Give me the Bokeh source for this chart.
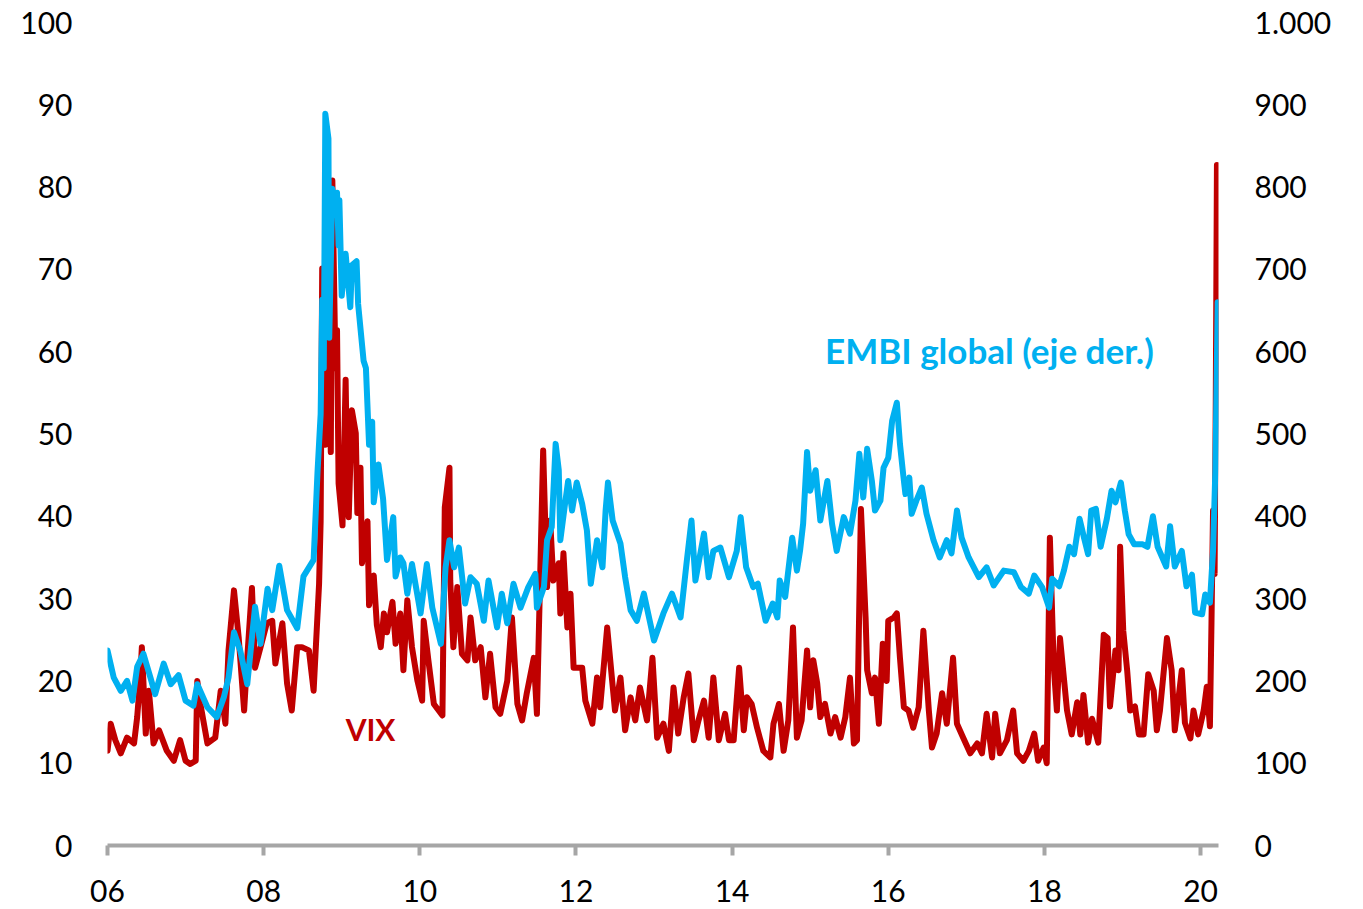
from bokeh.plotting import figure
from bokeh.models import Range1d, LinearAxis, FixedTicker, ColumnDataSource
from bokeh.core.properties import value
from bokeh.embed import file_html
from bokeh.resources import INLINE

# ---------------- data (decimal years) ----------------
vix_dates = [2006.00, 2006.04, 2006.10, 2006.17, 2006.25, 2006.34, 2006.38, 2006.42, 2006.44, 2006.49, 2006.53, 2006.59, 2006.66, 2006.76, 2006.85, 2006.93,
             2007.00, 2007.06, 2007.13, 2007.15, 2007.19, 2007.28, 2007.38, 2007.45, 2007.51, 2007.55, 2007.62, 2007.68, 2007.75, 2007.79, 2007.85, 2007.89, 2007.96,
             2008.04, 2008.11, 2008.15, 2008.24, 2008.30, 2008.36, 2008.43, 2008.49, 2008.58, 2008.64, 2008.71, 2008.73, 2008.75, 2008.79, 2008.83, 2008.86, 2008.88, 2008.90, 2008.92, 2008.94, 2008.96,
             2009.01, 2009.05, 2009.07, 2009.09, 2009.13, 2009.18, 2009.20, 2009.24, 2009.26, 2009.33, 2009.35, 2009.41, 2009.45, 2009.50, 2009.54, 2009.58, 2009.65, 2009.69, 2009.75, 2009.79, 2009.84, 2009.90, 2009.97,
             2010.03, 2010.05, 2010.11, 2010.18, 2010.29, 2010.32, 2010.38, 2010.39, 2010.43, 2010.48, 2010.54, 2010.61, 2010.65, 2010.71, 2010.78, 2010.84, 2010.90, 2010.97,
             2011.03, 2011.12, 2011.18, 2011.25, 2011.31, 2011.37, 2011.46, 2011.50, 2011.58, 2011.63, 2011.67, 2011.71, 2011.78, 2011.80, 2011.84, 2011.89, 2011.93, 2011.97,
             2012.08, 2012.12, 2012.21, 2012.27, 2012.31, 2012.40, 2012.46, 2012.50, 2012.57, 2012.63, 2012.70, 2012.76, 2012.82, 2012.91, 2012.98,
             2013.04, 2013.12, 2013.19, 2013.25, 2013.31, 2013.38, 2013.44, 2013.51, 2013.57, 2013.64, 2013.70, 2013.76, 2013.83, 2013.91, 2013.96,
             2014.02, 2014.09, 2014.15, 2014.19, 2014.25, 2014.32, 2014.40, 2014.49, 2014.53, 2014.60, 2014.66, 2014.72, 2014.78, 2014.83, 2014.89, 2014.96,
             2015.00, 2015.04, 2015.09, 2015.13, 2015.19, 2015.26, 2015.32, 2015.39, 2015.45, 2015.51, 2015.56, 2015.60, 2015.65, 2015.71, 2015.73, 2015.79, 2015.83, 2015.88, 2015.93, 2015.98,
             2016.00, 2016.07, 2016.11, 2016.15, 2016.20, 2016.26, 2016.32, 2016.39, 2016.45, 2016.52, 2016.56, 2016.62, 2016.69, 2016.75, 2016.83, 2016.88, 2016.96,
             2017.05, 2017.14, 2017.20, 2017.26, 2017.33, 2017.37, 2017.43, 2017.52, 2017.60, 2017.65, 2017.73, 2017.80, 2017.87, 2017.92, 2017.99,
             2018.03, 2018.07, 2018.12, 2018.16, 2018.20, 2018.24, 2018.29, 2018.35, 2018.42, 2018.46, 2018.50, 2018.56, 2018.61, 2018.69, 2018.76, 2018.81, 2018.84, 2018.91, 2018.95, 2018.97,
             2019.01, 2019.06, 2019.10, 2019.16, 2019.21, 2019.27, 2019.33, 2019.40, 2019.44, 2019.48, 2019.57, 2019.63, 2019.67, 2019.76, 2019.80, 2019.87, 2019.91, 2019.97,
             2020.04, 2020.08, 2020.12, 2020.14, 2020.16, 2020.18, 2020.195, 2020.21, 2020.22]
vix_values = [11.5, 14.8, 12.8, 11.2, 13.1, 12.4, 15.6, 20.4, 24.1, 13.6, 18.8, 12.4, 14.0, 11.5, 10.3, 12.8,
              10.3, 9.9, 10.3, 20.0, 17.2, 12.4, 13.1, 18.8, 14.8, 23.7, 31.0, 25.3, 16.4, 22.8, 31.3, 21.6, 24.1,
              27.0, 27.3, 22.1, 27.0, 19.7, 16.4, 24.1, 24.1, 23.7, 18.8, 31.8, 39.4, 70.1, 48.7, 61.7, 47.8, 80.8, 69.6, 58.0, 62.6, 44.0,
              38.9, 56.6, 44.0, 39.9, 52.9, 50.1, 40.4, 45.9, 34.3, 39.4, 29.2, 32.8, 26.8, 24.1, 28.2, 25.9, 29.6, 24.5, 28.2, 21.3, 29.8, 24.1, 20.0,
              17.6, 27.3, 22.5, 17.2, 15.8, 41.1, 45.9, 32.2, 24.1, 31.4, 23.3, 22.5, 27.7, 22.5, 24.1, 18.0, 23.3, 16.8,
              16.0, 20.0, 27.7, 17.2, 15.2, 18.5, 22.8, 16.0, 48.0, 31.4, 39.5, 32.2, 34.3, 28.2, 35.5, 26.5, 30.6, 21.6,
              21.6, 17.6, 14.8, 20.4, 16.8, 26.5, 20.4, 16.4, 20.4, 14.0, 18.0, 15.2, 19.2, 15.2, 22.8,
              13.1, 14.8, 11.5, 19.2, 13.6, 18.0, 20.9, 12.8, 15.2, 17.6, 13.1, 20.4, 12.8, 16.0, 12.8,
              12.8, 21.6, 14.0, 18.0, 17.2, 14.3, 11.5, 10.7, 14.8, 17.2, 11.5, 15.2, 26.5, 13.1, 15.2, 23.7,
              16.8, 22.5, 19.7, 15.6, 17.2, 13.6, 15.6, 13.1, 15.6, 20.4, 12.4, 12.8, 40.9, 27.7, 21.3, 18.5, 20.4, 14.8, 24.5, 20.0,
              27.3, 27.7, 28.2, 22.8, 16.8, 16.4, 14.3, 16.8, 26.1, 16.4, 11.9, 13.6, 18.5, 14.8, 22.8, 14.8, 13.1,
              11.2, 12.4, 11.2, 16.0, 10.7, 16.0, 11.2, 12.8, 16.4, 11.2, 10.3, 11.5, 13.6, 10.3, 11.9,
              10.0, 37.4, 21.7, 16.4, 25.2, 21.3, 16.4, 13.5, 17.4, 13.5, 18.3, 12.5, 15.4, 12.5, 25.6, 25.2, 16.9, 23.7, 21.3, 36.3,
              26.1, 21.3, 16.4, 16.9, 13.5, 13.5, 20.8, 18.8, 14.0, 16.4, 25.2, 21.3, 14.0, 21.3, 14.9, 13.0, 16.4, 13.5,
              16.4, 19.3, 14.5, 27.0, 40.7, 33.0, 54.0, 82.7, 66.0]

embi_dates = [2006.00, 2006.08, 2006.17, 2006.25, 2006.32, 2006.38, 2006.46, 2006.55, 2006.61, 2006.72, 2006.81, 2006.91,
              2007.00, 2007.10, 2007.15, 2007.28, 2007.40, 2007.49, 2007.55, 2007.62, 2007.70, 2007.79, 2007.89, 2007.96,
              2008.05, 2008.11, 2008.20, 2008.30, 2008.43, 2008.51, 2008.64, 2008.69, 2008.73, 2008.75, 2008.77, 2008.79, 2008.83, 2008.84, 2008.88, 2008.92, 2008.94, 2008.96, 2008.97,
              2009.00, 2009.05, 2009.11, 2009.13, 2009.19, 2009.21, 2009.28, 2009.31, 2009.35, 2009.39, 2009.41, 2009.47, 2009.53, 2009.58, 2009.66, 2009.69, 2009.75, 2009.79, 2009.84, 2009.90,
              2010.01, 2010.09, 2010.16, 2010.27, 2010.33, 2010.38, 2010.44, 2010.50, 2010.58, 2010.65, 2010.73, 2010.82, 2010.88, 2010.99,
              2011.05, 2011.12, 2011.20, 2011.29, 2011.39, 2011.48, 2011.50, 2011.59, 2011.63, 2011.69, 2011.74, 2011.78, 2011.80, 2011.86, 2011.90, 2011.95,
              2012.01, 2012.08, 2012.14, 2012.19, 2012.27, 2012.34, 2012.38, 2012.41, 2012.47, 2012.57, 2012.63, 2012.70, 2012.78, 2012.87,
              2013.00, 2013.12, 2013.23, 2013.34, 2013.42, 2013.48, 2013.53, 2013.64, 2013.70, 2013.76, 2013.85, 2013.96,
              2014.06, 2014.11, 2014.18, 2014.27, 2014.33, 2014.43, 2014.52, 2014.58, 2014.61, 2014.68, 2014.77, 2014.83, 2014.87, 2014.91, 2014.96,
              2015.00, 2015.07, 2015.13, 2015.22, 2015.28, 2015.34, 2015.43, 2015.51, 2015.58, 2015.63, 2015.68, 2015.73, 2015.79, 2015.83, 2015.90, 2015.94,
              2016.00, 2016.05, 2016.11, 2016.15, 2016.19, 2016.22, 2016.27, 2016.30, 2016.36, 2016.43, 2016.49, 2016.58, 2016.66, 2016.75, 2016.81, 2016.88, 2016.94,
              2017.03, 2017.16, 2017.26, 2017.35, 2017.48, 2017.61, 2017.70, 2017.80, 2017.87, 2017.97,
              2018.06, 2018.10, 2018.19, 2018.25, 2018.32, 2018.38, 2018.45, 2018.51, 2018.56, 2018.60, 2018.66, 2018.72, 2018.80, 2018.86, 2018.91, 2018.98,
              2019.03, 2019.08, 2019.15, 2019.26, 2019.32, 2019.39, 2019.45, 2019.56, 2019.61, 2019.67, 2019.76, 2019.82, 2019.89, 2019.93,
              2020.02, 2020.06, 2020.12, 2020.16, 2020.19, 2020.22]
embi_values = [237, 204, 188, 200, 176, 217, 233, 204, 184, 221, 196, 207,
               176, 170, 196, 168, 156, 180, 204, 259, 237, 196, 290, 245,
               312, 286, 340, 286, 264, 327, 347, 454, 524, 663, 580, 889, 859, 617, 798, 766, 793, 729, 784,
               668, 719, 654, 705, 710, 658, 589, 580, 487, 515, 417, 463, 421, 347, 399, 327, 350, 343, 306, 342,
               282, 342, 289, 245, 338, 371, 338, 362, 294, 326, 318, 273, 322, 265,
               306, 270, 318, 289, 314, 330, 289, 314, 371, 387, 488, 456, 371, 415, 443, 407,
               441, 415, 383, 318, 371, 338, 407, 441, 395, 367, 326, 286, 273, 306,
               249, 282, 306, 277, 346, 395, 322, 379, 326, 358, 362, 326,
               358, 399, 338, 314, 318, 273, 294, 277, 322, 302, 374, 334, 358, 391, 478,
               431, 456, 395, 443, 391, 358, 399, 379, 419, 476, 423, 482, 443, 407, 419, 459,
               471, 516, 538, 488, 452, 427, 447, 403, 419, 435, 403, 371, 350, 371, 355, 407, 374,
               350, 326, 338, 316, 334, 332, 314, 306, 328, 314,
               289, 324, 315, 334, 363, 354, 397, 373, 354, 407, 409, 363, 397, 431, 417, 441,
               407, 378, 366, 366, 363, 400, 363, 339, 388, 339, 358, 315, 329, 283,
               281, 305, 295, 358, 456, 660]

x_ticks = [2006, 2008, 2010, 2012, 2014, 2016, 2018, 2020]
x_tick_labels = ["06", "08", "10", "12", "14", "16", "18", "20"]
left_ticks = [0, 10, 20, 30, 40, 50, 60, 70, 80, 90, 100]
right_ticks = [0, 100, 200, 300, 400, 500, 600, 700, 800, 900, 1000]
right_tick_labels = ["0", "100", "200", "300", "400", "500", "600", "700", "800", "900", "1.000"]

vix_label = "VIX"
embi_label = "EMBI global (eje der.)"

# ---------------- styles ----------------
RED = "#C00000"
BLUE = "#00B0F0"
AXIS_GRAY = "#A6A6A6"
FONT = "Lato"

p = figure(width=1355, height=909,
           x_range=Range1d(2006.0, 2020.23), y_range=Range1d(0, 100),
           output_backend="svg", toolbar_location=None,
           min_border_left=107, min_border_right=137,
           min_border_top=22, min_border_bottom=64)
p.extra_y_ranges = {"embi": Range1d(0, 1000)}

p.xgrid.grid_line_color = None
p.ygrid.grid_line_color = None
p.outline_line_color = None
p.background_fill_color = "white"
p.border_fill_color = "white"

# x axis
xa = p.xaxis[0]
xa.ticker = FixedTicker(ticks=x_ticks)
xa.major_label_overrides = {t: l for t, l in zip(x_ticks, x_tick_labels)}
xa.axis_line_color = AXIS_GRAY
xa.axis_line_width = 4
xa.major_tick_line_color = AXIS_GRAY
xa.major_tick_line_width = 4
xa.major_tick_in = 0
xa.major_tick_out = 10
xa.minor_tick_line_color = None
xa.major_label_standoff = 24
xa.major_label_text_font = FONT
xa.major_label_text_font_size = "30px"
xa.major_label_text_color = "black"

# left axis
ya = p.yaxis[0]
ya.ticker = FixedTicker(ticks=left_ticks)
ya.axis_line_color = None
ya.major_tick_line_color = None
ya.minor_tick_line_color = None
ya.major_label_standoff = 29
ya.major_label_text_font = FONT
ya.major_label_text_font_size = "30px"
ya.major_label_text_color = "black"

# right axis
ra = LinearAxis(y_range_name="embi", ticker=FixedTicker(ticks=right_ticks),
                major_label_overrides={t: l for t, l in zip(right_ticks, right_tick_labels)})
ra.axis_line_color = None
ra.major_tick_line_color = None
ra.minor_tick_line_color = None
ra.major_label_standoff = 30
ra.major_label_text_font = FONT
ra.major_label_text_font_size = "30px"
ra.major_label_text_color = "black"
p.add_layout(ra, "right")

vix_src = ColumnDataSource(dict(x=vix_dates, y=vix_values))
embi_src = ColumnDataSource(dict(x=embi_dates, y=embi_values))

p.line("x", "y", source=vix_src, line_color=RED, line_width=6, line_join="round", line_cap="round")
p.line("x", "y", source=embi_src, line_color=BLUE, line_width=6, line_join="round", line_cap="round",
       y_range_name="embi")

p.text(x=[2009.05], y=[14.1], text=[vix_label], text_color=RED,
       text_font=value(FONT), text_font_style="bold", text_font_size="30px",
       text_align="left", text_baseline="alphabetic")
p.text(x=[2015.19], y=[60.2], text=[embi_label], text_color=BLUE,
       text_font=value(FONT), text_font_style="bold", text_font_size="35px",
       text_align="left", text_baseline="alphabetic")

open("out.html", "w").write(file_html(p, INLINE))
